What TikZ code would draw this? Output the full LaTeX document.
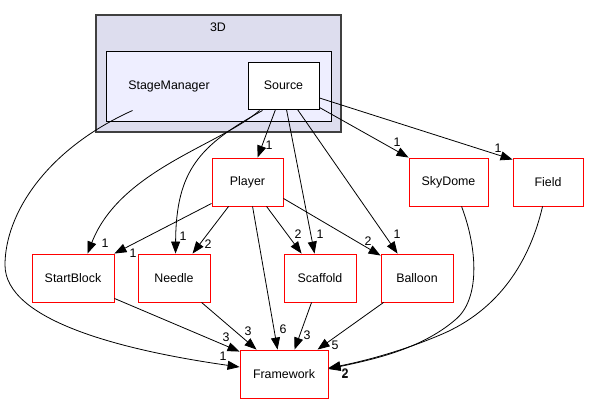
\documentclass[tikz,border=0pt]{standalone}
\usepackage{fontspec}
\setmainfont{Liberation Sans}
\usetikzlibrary{arrows.meta,calc}
\definecolor{outerfill}{HTML}{DDDDEE}
\definecolor{innerfill}{HTML}{EEEEFF}
\definecolor{outerline}{HTML}{404040}
\begin{document}
\begin{tikzpicture}[x=1pt,y=-1pt,
  every node/.style={font=\fontsize{12.4}{14}\selectfont, inner sep=0pt},
  redbox/.style={draw=red, fill=white, line width=0.9pt, minimum height=48pt},
  dep/.style={line width=0.8pt, -{Triangle[length=12pt,width=9pt]}},
  lbl/.style={font=\fontsize{12.4}{14}\selectfont}
]
\useasboundingbox (0,0) rectangle (591,404);
\fill[white] (0,0) rectangle (591,404);
% clusters
\node[draw=outerline, fill=outerfill, line width=1.2pt, minimum width=245pt, minimum height=117pt] (c3d) at (218.5,73.5) {};
\node (t3d) at (218,27) {3D};
\node[draw=black, fill=innerfill, line width=1pt, minimum width=225pt, minimum height=69pt] (stagemgr) at (218.5,86.5) {};
\node (tsm) at (169,86) {StageManager};
\node[draw=black, fill=white, line width=1pt, minimum width=71pt, minimum height=47pt] (source) at (283.5,85.5) {Source};
% nodes
\node[redbox, minimum width=71pt] (player) at (247.5,182) {Player};
\node[redbox, minimum width=79pt] (skydome) at (448.5,182) {SkyDome};
\node[redbox, minimum width=70pt] (field) at (548,182) {Field};
\node[redbox, minimum width=82pt] (startblock) at (73,278) {StartBlock};
\node[redbox, minimum width=72pt] (needle) at (174,278) {Needle};
\node[redbox, minimum width=72pt] (scaffold) at (320,278) {Scaffold};
\node[redbox, minimum width=72pt] (balloon) at (417,278) {Balloon};
\node[redbox, minimum width=88pt] (framework) at (284,374) {Framework};
% edges from Source
\draw[dep] ($(source.south west)+(28,0)$) -- ($(player.north west)+(46,0)$);
\draw[dep] ($(source.south west)+(12,1)$) .. controls (220,145) and (120,170) .. ($(startblock.north west)+(56,0)$);
\draw[dep] ($(source.south west)+(15,1)$) .. controls (200,145) and (176,170) .. ($(needle.north west)+(38,0)$);
\draw[dep] ($(source.south west)+(39,0)$) -- ($(scaffold.north west)+(31,0)$);
\draw[dep] ($(source.south west)+(50,0)$) -- ($(balloon.north west)+(17,0)$);
\draw[dep] ($(source.south east)+(0,-2)$) -- (skydome.north west);
\draw[dep] ($(source.east)+(0,12.5)$) -- ($(field.north west)+(0,2)$);
% edges from Player
\draw[dep] ($(player.south west)+(0,-3)$) -- (startblock.north east);
\draw[dep] ($(player.south west)+(17,0)$) -- ($(needle.north west)+(55,0)$);
\draw[dep] ($(player.south west)+(55,0)$) -- ($(scaffold.north west)+(18,0)$);
\draw[dep] ($(player.south east)+(0,-8)$) -- ($(balloon.north west)+(0,2)$);
\draw[dep] ($(player.south west)+(41,0)$) -- ($(framework.north west)+(38,0)$);
% edges into Framework
\draw[dep] ($(startblock.south east)+(0,-4)$) -- ($(framework.north west)+(0,2)$);
\draw[dep] ($(needle.south west)+(64,0)$) -- ($(framework.north west)+(17,0)$);
\draw[dep] ($(scaffold.south west)+(28,0)$) -- ($(framework.north west)+(55,0)$);
\draw[dep] ($(balloon.south west)+(3,0)$) -- ($(framework.north west)+(78,0)$);
\draw[dep] ($(stagemgr.south west)+(27,-11)$) .. controls (45,150) and (5,215) .. (5,265)
  .. controls (5,320) and (120,350) .. ($(framework.west)+(0,-7)$);
\draw[dep] ($(skydome.south west)+(53,0)$) .. controls (478,250) and (480,300) .. (455,320)
  .. controls (420,350) and (370,360) .. ($(framework.east)+(0,-5)$);
\draw[dep] ($(field.south west)+(30,0)$) .. controls (530,260) and (500,310) .. (440,335)
  .. controls (400,352) and (360,362) .. ($(framework.east)+(0,-6)$);
% labels
\node[lbl] (l1) at (269,145) {1};
\node[lbl] (l2) at (105,243) {1};
\node[lbl] (l3) at (183,236) {1};
\node[lbl] (l4) at (320,234) {1};
\node[lbl] (l5) at (397,234) {1};
\node[lbl] (l6) at (397,142) {1};
\node[lbl] (l7) at (498,148) {1};
\node[lbl] (l8) at (133,253) {1};
\node[lbl] (l9) at (208,244) {2};
\node[lbl] (l10) at (298,234) {2};
\node[lbl] (l11) at (368,241) {2};
\node[lbl] (l12) at (283,329) {6};
\node[lbl] (l13) at (226,337) {3};
\node[lbl] (l14) at (248,331) {3};
\node[lbl] (l15) at (307,335) {3};
\node[lbl] (l16) at (335,345) {5};
\node[lbl] (l17) at (223,356) {1};
\node[lbl] (l18) at (345,373) {2};
\node[lbl] (l19) at (345,374.5) {2};
\end{tikzpicture}
\end{document}
